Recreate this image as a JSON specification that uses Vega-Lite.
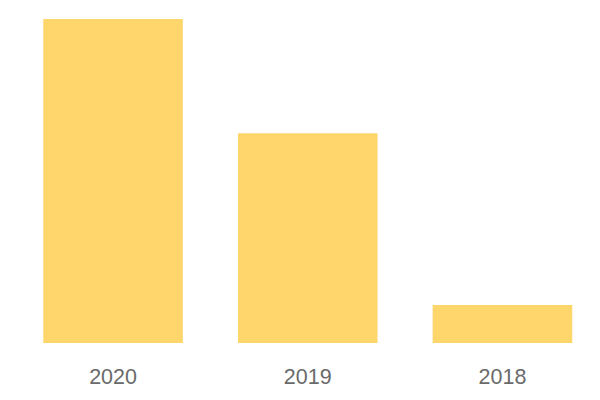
{
  "$schema": "https://vega.github.io/schema/vega-lite/v6.json",
  "width": 583.5,
  "height": 324,
  "padding": {"left": 16, "top": 19, "right": 0, "bottom": 57},
  "autosize": {"type": "none"},
  "background": "white",
  "config": {"view": {"stroke": null}},
  "data": {"values": [
    {"year": "2020", "value": 17},
    {"year": "2019", "value": 11},
    {"year": "2018", "value": 2}
  ]},
  "mark": {"type": "bar", "color": "#FED66B"},
  "encoding": {
    "x": {"field": "year", "type": "nominal", "sort": null,
      "scale": {"paddingInner": 0.283, "paddingOuter": 0.14},
      "axis": {"title": null, "domain": false, "ticks": false, "labelAngle": 0, "labelFont": "Liberation Sans", "labelFontSize": 21.5, "labelColor": "#6a6a6a", "labelPadding": 23}},
    "y": {"field": "value", "type": "quantitative", "scale": {"domain": [0, 17], "nice": false}, "axis": null}
  }
}
